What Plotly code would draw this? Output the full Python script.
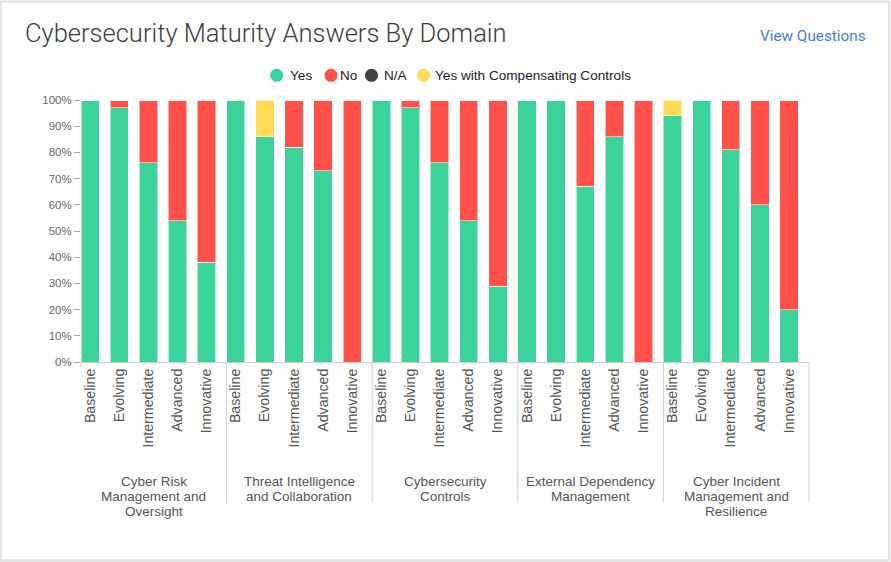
import plotly.graph_objects as go

# domains (groups) and maturity levels (bars inside each group)
domains = [
    "Cyber Risk<br>Management and<br>Oversight",
    "Threat Intelligence<br>and Collaboration",
    "Cybersecurity<br>Controls",
    "External Dependency<br>Management",
    "Cyber Incident<br>Management and<br>Resilience",
]
levels = ["Baseline", "Evolving", "Intermediate", "Advanced", "Innovative"]
ytick_labels = ["0%", "10%", "20%", "30%", "40%", "50%", "60%", "70%", "80%", "90%", "100%"]

# percent of answers, one row per domain
yes = [
    [100, 97, 76, 54, 38],
    [100, 86, 82, 73, 0],
    [100, 97, 76, 54, 29],
    [100, 100, 67, 86, 0],
    [94, 100, 81, 60, 20],
]
no = [
    [0, 3, 24, 46, 62],
    [0, 0, 18, 27, 100],
    [0, 3, 24, 46, 71],
    [0, 0, 33, 14, 100],
    [0, 0, 19, 40, 80],
]
na = [
    [0, 0, 0, 0, 0],
    [0, 0, 0, 0, 0],
    [0, 0, 0, 0, 0],
    [0, 0, 0, 0, 0],
    [0, 0, 0, 0, 0],
]
comp = [
    [0, 0, 0, 0, 0],
    [0, 14, 0, 0, 0],
    [0, 0, 0, 0, 0],
    [0, 0, 0, 0, 0],
    [6, 0, 0, 0, 0],
]

series = [
    ("Yes", yes, "#3bd399"),
    ("No", no, "#ff5049"),
    ("N/A", na, "#404040"),
    ("Yes with Compensating Controls", comp, "#ffdc55"),
]

W, H = 891, 562
L, R, T, B = 81, 82, 100, 200
pw, ph = W - L - R, H - T - B


def px(x):  # pixel -> paper x
    return (x - L) / pw


def py(y):  # pixel -> paper y
    return (H - B - y) / ph


n = len(domains) * len(levels)
xs = list(range(n))
names = [lv for _ in domains for lv in levels]
barw = 0.63

fig = go.Figure()
for name, vals, color in series:
    flat = [v for row in vals for v in row]
    fig.add_trace(go.Bar(
        x=xs, y=flat, name=name, width=barw, offset=-0.5,
        marker=dict(color=color, line=dict(color="rgba(255,255,255,0.55)", width=1)),
        customdata=names,
        hovertemplate="%{customdata}: %{y}%<extra>" + name + "</extra>",
    ))

font = "Liberation Sans, Arial, sans-serif"
annotations = [
    dict(text="Cybersecurity Maturity Answers By Domain", xref="paper", yref="paper",
         x=px(23), y=py(33), xanchor="left", yanchor="middle", showarrow=False,
         font=dict(family="Roboto", size=25.5, color="#3d3d3d", weight=300)),
    dict(text="View Questions", xref="paper", yref="paper",
         x=px(868), y=py(36), xanchor="right", yanchor="middle", showarrow=False,
         font=dict(family="Roboto", size=15.3, color="#4a7bd8")),
]
shapes = [
    dict(type="rect", xref="paper", yref="paper",
         x0=px(1), x1=px(889), y0=py(560), y1=py(2),
         fillcolor="white", line=dict(color="#dedede", width=1.5), layer="below"),
]

# custom legend with round markers
leg_circles = [276.7, 331, 371.5, 423.5]
leg_text = [288, 338, 382, 433]
for (name, _, color), cx, tx in zip(series, leg_circles, leg_text):
    shapes.append(dict(type="circle", xref="paper", yref="paper",
                       xsizemode="pixel", ysizemode="pixel",
                       xanchor=px(cx), yanchor=py(75.3),
                       x0=-6.5, x1=6.5, y0=-6.5, y1=6.5,
                       fillcolor=color, line=dict(width=0)))
    annotations.append(dict(text=name, xref="paper", yref="paper",
                            x=px(tx), y=py(75.3), xanchor="left", yanchor="middle",
                            showarrow=False,
                            font=dict(family=font, size=13.6, color="#222")))

# group dividers and group labels
k = len(levels)
shapes.append(dict(type="line", xref="paper", yref="paper", x0=0, x1=0,
                   y0=0, y1=py(367), line=dict(color="#cccccc", width=1)))
for g, d in enumerate(domains):
    xe = (g + 1) * k / n
    shapes.append(dict(type="line", xref="paper", yref="paper", x0=xe, x1=xe,
                       y0=0, y1=py(503), line=dict(color="#d0d0d0", width=1)))
    xc = (g * k + k / 2) / n
    for j, line in enumerate(d.split("<br>")):
        annotations.append(dict(text=line, xref="paper", yref="paper",
                                x=xc, y=py(481.7 + 15 * j), xanchor="center",
                                yanchor="middle", showarrow=False,
                                font=dict(family=font, size=13.5, color="#555")))

fig.update_layout(
    width=W, height=H,
    barmode="stack",
    paper_bgcolor="#f2f2f4", plot_bgcolor="rgba(0,0,0,0)",
    margin=dict(l=L, r=R, t=T, b=B),
    font=dict(family=font, color="#555"),
    showlegend=False,
    xaxis=dict(
        range=[-0.5, n - 0.5],
        tickvals=[i - 0.5 + barw / 2 for i in xs], ticktext=names,
        tickangle=-90, tickfont=dict(size=14.2, color="#555"),
        showline=True, linecolor="#cccccc", linewidth=1,
        ticks="", showgrid=False, zeroline=False,
    ),
    yaxis=dict(
        range=[0, 100], tickvals=list(range(0, 101, 10)), ticktext=ytick_labels,
        ticks="outside", ticklen=6, tickcolor="#aaaaaa",
        tickfont=dict(size=11.5, color="#666"),
        showgrid=False, zeroline=False, showline=False,
    ),
    annotations=annotations,
    shapes=shapes,
)

fig.write_html("out.html", config={"displayModeBar": False},
               post_script="document.body.style.margin='0px';")
